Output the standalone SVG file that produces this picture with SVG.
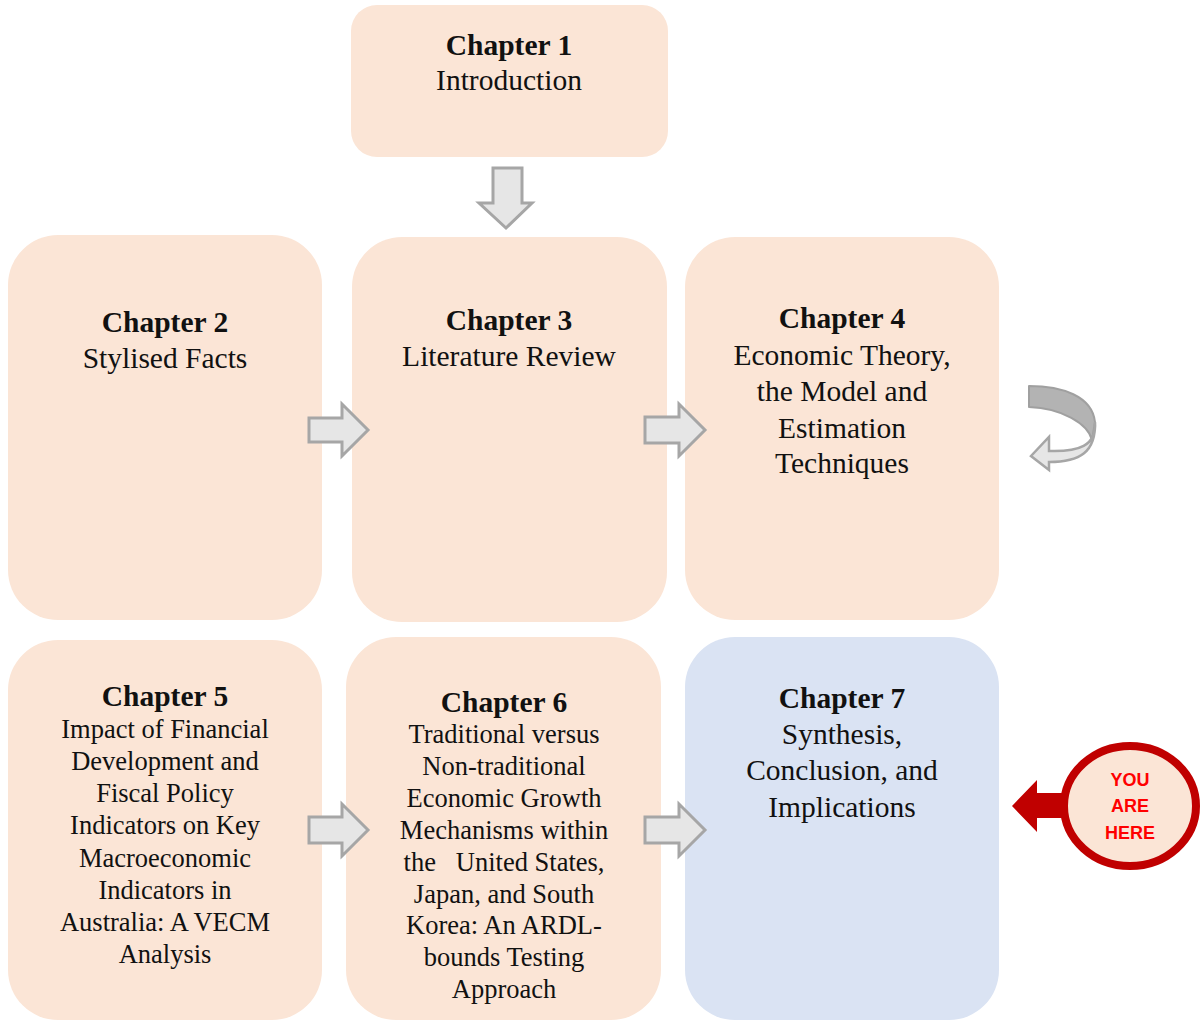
<svg xmlns="http://www.w3.org/2000/svg" width="1200" height="1021" viewBox="0 0 1200 1021">
  <defs>
    <style>
      .box { fill: #fbe5d6; }
      .box.blue { fill: #dae3f3; }
      text { font-family: "Liberation Serif", "Times New Roman", serif; fill: #111; text-anchor: middle; }
      .h { font-weight: bold; font-size: 29.5px; }
      .t { font-size: 29.5px; }
      .s { font-size: 26.5px; }
      .flow { fill: #e6e6e6; stroke: #a6a6a6; stroke-width: 3; stroke-linejoin: miter; }
      .badge { font-family: "Liberation Sans", Arial, sans-serif; font-weight: bold; font-size: 18px; fill: #ff0000; }
    </style>
  </defs>
  <rect width="1200" height="1021" fill="#ffffff"/>

  <!-- Chapter nodes -->
  <g id="ch1">
    <rect class="box" x="351" y="5" width="317" height="152" rx="26"/>
    <text class="h" x="509" y="55">Chapter 1</text>
    <text class="t" x="509" y="90">Introduction</text>
  </g>
  <g id="ch2">
    <rect class="box" x="8" y="235" width="314" height="385" rx="50"/>
    <text class="h" x="165" y="332">Chapter 2</text>
    <text class="t" x="165" y="368">Stylised Facts</text>
  </g>
  <g id="ch3">
    <rect class="box" x="352" y="237" width="315" height="385" rx="50"/>
    <text class="h" x="509" y="330">Chapter 3</text>
    <text class="t" x="509" y="366">Literature Review</text>
  </g>
  <g id="ch4">
    <rect class="box" x="685" y="237" width="314" height="383" rx="50"/>
    <text class="h" x="842" y="328">Chapter 4</text>
    <text class="t" x="842" y="365">Economic Theory,</text>
    <text class="t" x="842" y="401">the Model and</text>
    <text class="t" x="842" y="438">Estimation</text>
    <text class="t" x="842" y="473">Techniques</text>
  </g>
  <g id="ch5">
    <rect class="box" x="8" y="640" width="314" height="380" rx="50"/>
    <text class="h" x="165" y="706">Chapter 5</text>
    <text class="s" x="165" y="738">Impact of Financial</text>
    <text class="s" x="165" y="770">Development and</text>
    <text class="s" x="165" y="802">Fiscal Policy</text>
    <text class="s" x="165" y="834">Indicators on Key</text>
    <text class="s" x="165" y="867">Macroeconomic</text>
    <text class="s" x="165" y="899">Indicators in</text>
    <text class="s" x="165" y="931">Australia: A VECM</text>
    <text class="s" x="165" y="963">Analysis</text>
  </g>
  <g id="ch6">
    <rect class="box" x="346" y="637" width="315" height="383" rx="50"/>
    <text class="h" x="504" y="712">Chapter 6</text>
    <text class="s" x="504" y="743">Traditional versus</text>
    <text class="s" x="504" y="775">Non-traditional</text>
    <text class="s" x="504" y="807">Economic Growth</text>
    <text class="s" x="504" y="839">Mechanisms within</text>
    <text class="s" x="504" y="871" xml:space="preserve">the   United States,</text>
    <text class="s" x="504" y="903">Japan, and South</text>
    <text class="s" x="504" y="934">Korea: An ARDL-</text>
    <text class="s" x="504" y="966">bounds Testing</text>
    <text class="s" x="504" y="998">Approach</text>
  </g>
  <g id="ch7">
    <rect class="box blue" x="685" y="637" width="314" height="383" rx="50"/>
    <text class="h" x="842" y="708">Chapter 7</text>
    <text class="t" x="842" y="744">Synthesis,</text>
    <text class="t" x="842" y="780">Conclusion, and</text>
    <text class="t" x="842" y="817">Implications</text>
  </g>

  <!-- Block arrows between chapters -->
  <g id="connectors">
    <path class="flow" d="M493,168 H522 V203 H532 L506,228 L479,203 H493 Z"/>
    <path class="flow" d="M309,418 H342 V404 L368,430 L342,456 V442 H309 Z"/>
    <path class="flow" d="M645,417 H679 V404 L705,430 L679,456 V443 H645 Z"/>
    <path class="flow" d="M309,817 H342 V804 L368,830 L342,856 V843 H309 Z"/>
    <path class="flow" d="M645,817 H679 V804 L705,830 L679,856 V843 H645 Z"/>
    <!-- curved return arrow beside Chapter 4 -->
    <g id="loop">
      <path d="M1029,386 C1062,386 1092,396 1095,422 L1092,440 C1088,424 1062,408 1029,407 Z" fill="#b3b3b3" stroke="#a0a0a0" stroke-width="2" stroke-linejoin="round"/>
      <path d="M1095,422 C1097,446 1078,452 1049,451 L1049,437 L1031,456 L1049,470 L1049,462 C1080,462 1096,452 1095,422 Z" fill="#e6e6e6" stroke="#a6a6a6" stroke-width="2.5" stroke-linejoin="miter"/>
    </g>
  </g>

  <!-- "You are here" marker -->
  <g id="you-are-here">
    <path d="M1012,806 L1037,780 V793 H1068 V818 H1037 V832 Z" fill="#c00000"/>
    <ellipse cx="1130" cy="806" rx="66" ry="60" fill="#fbe5d6" stroke="#c00000" stroke-width="8"/>
    <text class="badge" x="1130" y="786">YOU</text>
    <text class="badge" x="1130" y="812">ARE</text>
    <text class="badge" x="1130" y="839">HERE</text>
  </g>
</svg>
